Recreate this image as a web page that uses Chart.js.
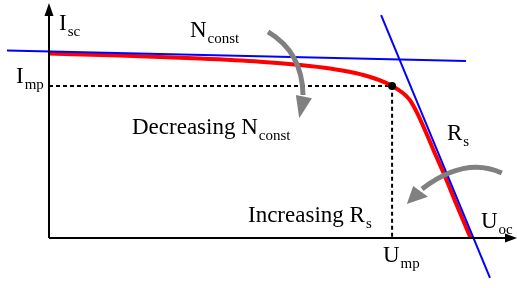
<!DOCTYPE html>
<html>
<head>
<meta charset="utf-8">
<script src="https://cdn.jsdelivr.net/npm/chart.js@4"></script>
<style>
  html, body { margin: 0; padding: 0; background: #fff; }
  canvas { display: block; }
</style>
</head>
<body>
<canvas id="ivChart" width="517" height="288"></canvas>
<script>
// I-U curve of the cell (U normalised to Uoc, I normalised to Isc)
const curveU = [0, 0.168, 0.358, 0.500, 0.595, 0.666, 0.737, 0.813, 0.855, 0.877, 0.898, 0.911, 0.935, 0.966, 0.999];
const curveI = [0.997, 0.986, 0.970, 0.953, 0.935, 0.916, 0.886, 0.822, 0.746, 0.654, 0.546, 0.476, 0.351, 0.178, 0];

// tangent lines
const flatLineU = [-0.0995, 0.988];
const flatLineI = [1.0135, 0.957];
const steepLineU = [0.787, 1.045];
const steepLineI = [1.205, -0.216];

// maximum power point
const mppU = 0.813;
const mppI = 0.822;

// axis ranges
const uRange = [-0.1161, 1.109];
const iRange = [-0.2703, 1.2865];

// gray arrows: start, control, end, head tip, head corners
const arrowDecN = [[0.519, 1.114], [0.600, 1.005], [0.602, 0.773], [0.593, 0.647], [0.585, 0.773], [0.623, 0.755]];
const arrowIncR = [[1.073, 0.351], [0.986, 0.443], [0.884, 0.265], [0.848, 0.184], [0.863, 0.281], [0.898, 0.223]];

const toPoints = (xs, ys) => xs.map((x, i) => ({ x: x, y: ys[i] }));

const mainFont = '23px "Liberation Serif", "Times New Roman", serif';
const subFont = '15px "Liberation Serif", "Times New Roman", serif';

function drawSub(ctx, main, sub, x, y) {
    ctx.font = mainFont;
    ctx.fillText(main, x, y);
    const w = ctx.measureText(main).width;
    ctx.font = subFont;
    ctx.fillText(sub, x + w + 1, y + 6);
}

const overlay = {
    id: 'overlay',
    afterDatasetsDraw(chart) {
        const ctx = chart.ctx;
        const xs = chart.scales.x;
        const ys = chart.scales.y;
        const area = chart.chartArea;
        const x0 = xs.getPixelForValue(0);
        const y0 = ys.getPixelForValue(0);

        ctx.save();
        // axes
        ctx.strokeStyle = '#000';
        ctx.fillStyle = '#000';
        ctx.lineWidth = 2;
        ctx.beginPath();
        ctx.moveTo(x0, y0);
        ctx.lineTo(x0, area.top + 14);
        ctx.moveTo(x0, y0);
        ctx.lineTo(area.right - 10, y0);
        ctx.stroke();
        ctx.beginPath();
        ctx.moveTo(x0, area.top + 3);
        ctx.lineTo(x0 - 4.5, area.top + 16);
        ctx.lineTo(x0 + 4.5, area.top + 16);
        ctx.closePath();
        ctx.fill();
        ctx.beginPath();
        ctx.moveTo(area.right, y0);
        ctx.lineTo(area.right - 12, y0 - 4.5);
        ctx.lineTo(area.right - 12, y0 + 4.5);
        ctx.closePath();
        ctx.fill();

        // gray arrows
        ctx.strokeStyle = '#808080';
        ctx.fillStyle = '#808080';
        ctx.lineWidth = 5;
        [arrowDecN, arrowIncR].forEach(a => {
            const p = a.map(v => [xs.getPixelForValue(v[0]), ys.getPixelForValue(v[1])]);
            ctx.beginPath();
            ctx.moveTo(p[0][0], p[0][1]);
            ctx.quadraticCurveTo(p[1][0], p[1][1], p[2][0], p[2][1]);
            ctx.stroke();
            ctx.beginPath();
            ctx.moveTo(p[3][0], p[3][1]);
            ctx.lineTo(p[4][0], p[4][1]);
            ctx.lineTo(p[5][0], p[5][1]);
            ctx.closePath();
            ctx.fill();
        });

        // labels
        ctx.fillStyle = '#000';
        ctx.textBaseline = 'alphabetic';
        drawSub(ctx, 'I', 'sc', 59, 30);
        drawSub(ctx, 'N', 'const', 190, 37);
        drawSub(ctx, 'I', 'mp', 16, 83);
        drawSub(ctx, 'Decreasing N', 'const', 132, 134);
        drawSub(ctx, 'R', 's', 447, 140);
        drawSub(ctx, 'Increasing R', 's', 248, 222);
        drawSub(ctx, 'U', 'oc', 481, 228);
        drawSub(ctx, 'U', 'mp', 383, 262);
        ctx.restore();
    }
};

new Chart(document.getElementById('ivChart'), {
    type: 'scatter',
    data: {
        datasets: [
            {
                label: 'MPP',
                data: [{ x: mppU, y: mppI }],
                pointRadius: 4,
                pointBackgroundColor: '#000',
                pointBorderWidth: 0,
                showLine: false,
                order: 0
            },
            {
                label: 'N const',
                data: toPoints(flatLineU, flatLineI),
                borderColor: '#0000ff',
                borderWidth: 2,
                pointRadius: 0,
                showLine: true,
                order: 1
            },
            {
                label: 'Rs',
                data: toPoints(steepLineU, steepLineI),
                borderColor: '#0000ff',
                borderWidth: 2,
                pointRadius: 0,
                showLine: true,
                order: 1
            },
            {
                label: 'I-U',
                data: toPoints(curveU, curveI),
                borderColor: '#ff0000',
                borderWidth: 4,
                pointRadius: 0,
                showLine: true,
                cubicInterpolationMode: 'monotone',
                order: 2
            },
            {
                label: 'MPP guides',
                data: [{ x: 0, y: mppI }, { x: mppU, y: mppI }, { x: mppU, y: 0 }],
                borderColor: '#000',
                borderWidth: 2,
                borderDash: [4, 3],
                pointRadius: 0,
                showLine: true,
                order: 3
            }
        ]
    },
    options: {
        responsive: false,
        animation: false,
        layout: { padding: 0, autoPadding: false },
        plugins: {
            legend: { display: false },
            tooltip: { enabled: false }
        },
        scales: {
            x: { type: 'linear', display: false, min: uRange[0], max: uRange[1] },
            y: { type: 'linear', display: false, min: iRange[0], max: iRange[1] }
        }
    },
    plugins: [overlay]
});
</script>
</body>
</html>
